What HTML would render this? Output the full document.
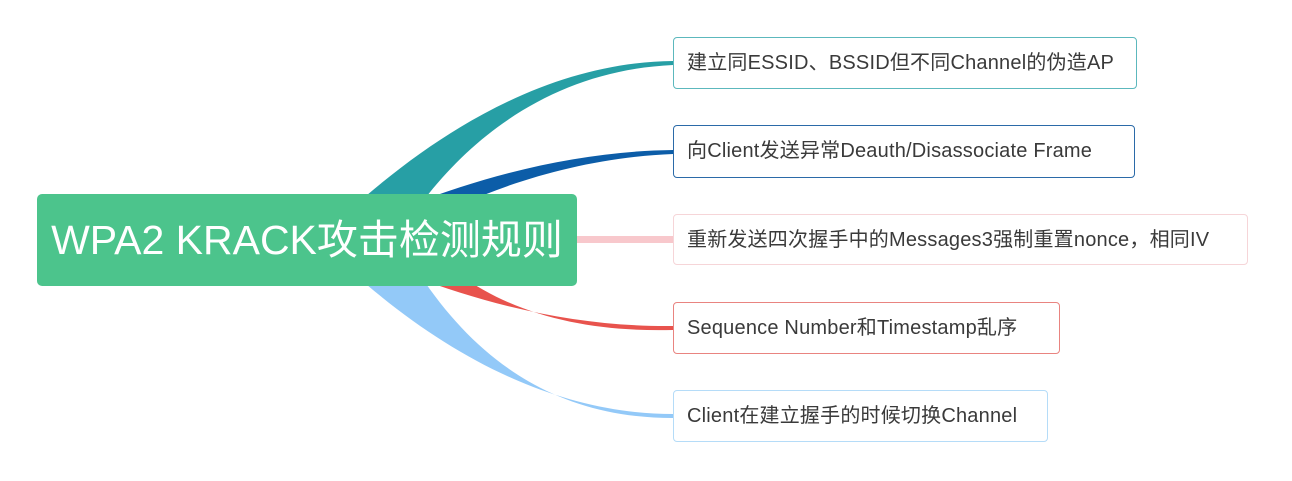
<!DOCTYPE html>
<html><head><meta charset="utf-8"><style>
body{margin:0;width:1292px;height:481px;background:#fff;position:relative;overflow:hidden;font-family:"Liberation Sans","Noto Sans CJK SC",sans-serif}
svg{position:absolute;left:0;top:0}
.c{position:absolute;left:37px;top:194px;width:540px;height:92px;background:#4cc48c;border-radius:5px;color:#fff;font-size:41px;line-height:92px;text-align:center;letter-spacing:0px}
.n{position:absolute;left:673px;height:50px;line-height:50px;box-sizing:border-box;border:1px solid;border-radius:4px;background:#fff;color:#3a3a3a;font-size:20px;padding-left:13px;white-space:nowrap;letter-spacing:0.2px}
</style></head><body>
<svg width="1292" height="481">
<path d="M350 210 C450 120 560 62 673 61 L673 65 C565 70 480 125 420 205 Z" fill="#279fa5"/>
<path d="M410 205 C500 170 590 151 673 150 L673 154 C595 157 520 178 460 205 Z" fill="#0c5da8"/>
<rect x="560" y="236" width="113" height="7" fill="#f8c8cc"/>
<path d="M410 275 C500 310 590 327 673 326 L673 330 C595 332 520 318 460 275 Z" fill="#e8534d"/>
<path d="M350 270 C450 360 560 414 673 414 L673 418 C560 418 480 365 420 275 Z" fill="#93c9f8"/>
</svg>
<div class="c">WPA2 KRACK攻击检测规则</div>
<div class="n" style="top:37px;width:464px;height:52px;line-height:50px;border-color:#5cb8bd">建立同ESSID、BSSID但不同Channel的伪造AP</div>
<div class="n" style="top:125px;width:462px;height:53px;line-height:51px;border-color:#2b6aa8">向Client发送异常Deauth/Disassociate Frame</div>
<div class="n" style="top:214px;width:575px;height:51px;border-color:#f6d5d8">重新发送四次握手中的Messages3强制重置nonce，相同IV</div>
<div class="n" style="top:302px;width:387px;height:52px;border-color:#e98480">Sequence Number和Timestamp乱序</div>
<div class="n" style="top:390px;width:375px;height:52px;border-color:#b5dcf8">Client在建立握手的时候切换Channel</div>
</body></html>
